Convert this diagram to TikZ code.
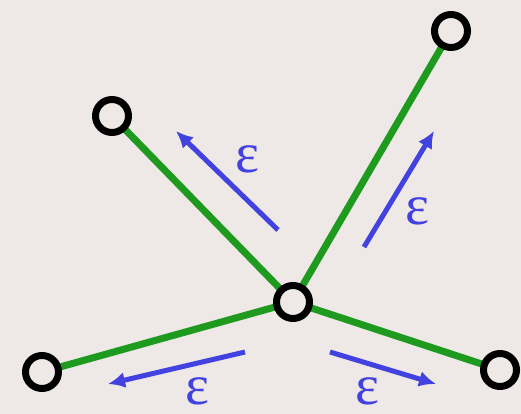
\documentclass[tikz,border=0pt]{standalone}
\usepackage{fontspec}
\newfontfamily\epsfont{Liberation Serif}
\usetikzlibrary{arrows.meta}
\definecolor{bgc}{HTML}{EEE8E6}
\definecolor{edgegreen}{HTML}{1E9A1E}
\definecolor{arrblue}{HTML}{4242E0}
\tikzset{
  vert/.style={circle, draw=black, line width=7pt, fill=bgc, minimum size=33pt, inner sep=0pt},
  edge/.style={draw=edgegreen, line width=7pt},
  flow/.style={draw=arrblue, line width=5pt, -{Latex[length=17pt,width=16pt]}},
  eps/.style={text=arrblue, font=\epsfont\fontsize{57}{60}\selectfont, inner sep=0pt, text height=26pt, text depth=1pt}
}
\begin{document}
\begin{tikzpicture}[x=1pt,y=-1pt]
\fill[bgc] (0,0) rectangle (521,414);
\useasboundingbox (0,0) rectangle (521,414);
\coordinate (c) at (293,302);
\coordinate (tl) at (112,116);
\coordinate (tr) at (451,31);
\coordinate (bl) at (42,372);
\coordinate (br) at (500,370);
\draw[edge] (c) -- (tl);
\draw[edge] (c) -- (tr);
\draw[edge] (c) -- (bl);
\draw[edge] (c) -- (br);
\node[vert] (nc) at (c) {};
\node[vert] (ntl) at (tl) {};
\node[vert] (ntr) at (tr) {};
\node[vert] (nbl) at (bl) {};
\node[vert] (nbr) at (br) {};
\coordinate (a1s) at (278,230); \coordinate (a1e) at (176,131);
\coordinate (a2s) at (364,247); \coordinate (a2e) at (434,131);
\coordinate (a3s) at (245,352); \coordinate (a3e) at (108,384);
\coordinate (a4s) at (330,352); \coordinate (a4e) at (436,384);
\draw[flow] (a1s) -- (a1e);
\draw[flow] (a2s) -- (a2e);
\draw[flow] (a3s) -- (a3e);
\draw[flow] (a4s) -- (a4e);
\node[eps] (e1) at (247,160) {ε};
\node[eps] (e2) at (417,212) {ε};
\node[eps] (e3) at (197,392) {ε};
\node[eps] (e4) at (367,392) {ε};
\end{tikzpicture}
\end{document}
